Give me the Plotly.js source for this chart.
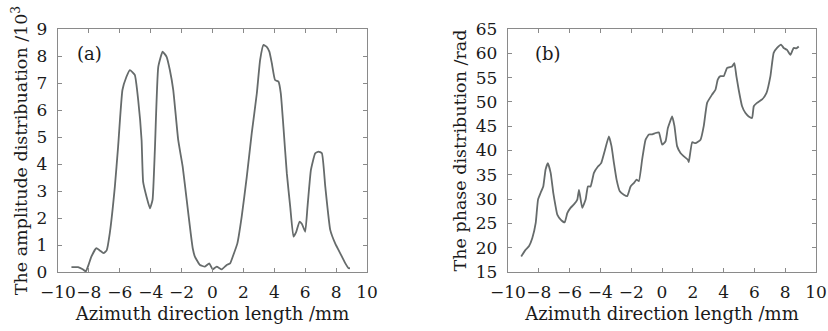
<!DOCTYPE html>
<html>
<head>
<meta charset="utf-8">
<script src="https://cdn.plot.ly/plotly-3.0.1.min.js"></script>
<style>html,body{margin:0;padding:0;background:#fff;}#chart{width:828px;height:331px;}</style>
</head>
<body>
<div id="chart"></div>
<script>
// (a) amplitude distribution (x in mm, y in 10^3)
const ampX = [-9.13,-8.7,-8.4,-8.2,-8.0,-7.84,-7.52,-7.3,-7.05,-6.85,-6.65,-6.32,-6.11,-5.83,-5.57,-5.35,-5.03,-4.81,-4.59,-4.49,-4.27,-4.05,-3.88,-3.73,-3.51,-3.23,-2.97,-2.76,-2.54,-2.22,-1.93,-1.67,-1.41,-1.28,-1.14,-0.81,-0.49,-0.21,0.01,0.27,0.6,0.92,1.14,1.35,1.61,1.89,2.22,2.54,2.87,3.08,3.3,3.51,3.68,3.84,4.05,4.27,4.42,4.59,4.81,5.03,5.24,5.42,5.63,5.79,6.0,6.15,6.37,6.65,6.86,7.08,7.3,7.62,7.94,8.27,8.6,8.81,8.9];
const ampY = [0.18,0.18,0.1,0.02,0.3,0.57,0.88,0.8,0.7,0.8,1.43,3.16,4.64,6.74,7.23,7.48,7.3,6.37,4.89,3.34,2.79,2.36,2.67,4.52,7.6,8.16,7.97,7.48,6.74,4.89,3.9,2.67,1.43,0.88,0.57,0.26,0.2,0.32,0.1,0.2,0.1,0.26,0.32,0.63,1.06,2.05,3.53,5.14,6.62,7.85,8.41,8.34,8.16,7.73,7.11,7.05,6.62,5.38,3.66,2.42,1.31,1.49,1.86,1.78,1.49,2.42,3.78,4.4,4.46,4.4,3.16,1.56,1.06,0.69,0.32,0.14,0.14];
// (b) phase distribution (x in mm, y in rad)
const phX = [-9.14,-8.85,-8.64,-8.42,-8.2,-8.05,-7.88,-7.71,-7.56,-7.41,-7.23,-7.06,-6.91,-6.8,-6.58,-6.32,-6.15,-5.94,-5.72,-5.5,-5.39,-5.18,-4.96,-4.81,-4.64,-4.42,-4.16,-3.95,-3.73,-3.45,-3.28,-3.12,-2.95,-2.74,-2.48,-2.26,-2.04,-1.83,-1.65,-1.5,-1.29,-1.07,-0.85,-0.64,-0.42,-0.2,0.01,0.23,0.38,0.66,0.81,0.98,1.2,1.42,1.68,1.74,1.96,2.17,2.5,2.71,2.93,3.25,3.47,3.62,3.79,4.01,4.23,4.55,4.7,4.83,4.98,5.2,5.42,5.63,5.85,5.96,6.17,6.5,6.78,7.04,7.25,7.47,7.73,7.9,8.12,8.34,8.55,8.72,8.88];
const phY = [18.2,19.6,20.3,22.0,25.1,29.9,31.3,32.6,36.1,37.4,35.4,31.3,28.5,26.8,25.8,25.2,27.1,28.2,28.9,29.9,31.9,28.2,29.9,32.6,32.6,35.4,36.7,37.4,39.8,42.9,40.9,37.4,34.0,31.6,30.9,30.6,32.6,33.3,34.0,33.7,38.1,42.2,43.3,43.3,43.6,43.7,41.2,41.9,44.6,47.0,45.0,40.9,39.5,38.8,38.1,37.6,41.7,41.5,42.2,45.0,49.8,51.5,52.5,54.6,55.3,55.3,57.0,57.3,58.0,55.3,52.5,49.1,47.7,47.0,46.7,49.1,49.8,50.5,51.8,55.3,60.1,61.1,61.8,61.1,60.7,59.7,61.1,61.0,61.4];
const xTicks = [-10,-8,-6,-4,-2,0,2,4,6,8,10];
const ampTicks = [0,1,2,3,4,5,6,7,8,9];
const phTicks = [15,20,25,30,35,40,45,50,55,60,65];

const FONT = 'DejaVu Serif, serif';
const lineStyle = {color:'#666b6b', width:1.8, shape:'spline', smoothing:0.4};
function xax(domain, anchor){
  return {domain:domain, anchor:anchor, range:[-10,10], tickvals:xTicks, tickangle:0, ticks:'inside', ticklen:4,
    tickcolor:'#8a8a8a', mirror:'ticks', showline:true, linecolor:'#8a8a8a', linewidth:1.2,
    showgrid:false, zeroline:false, ticklabelstandoff:4,
    tickfont:{family:FONT,size:17,color:'#1a1a1a'},
    title:{text:'Azimuth direction length /mm', font:{family:FONT,size:18,color:'#1a1a1a'}, standoff:6}};
}
function yax(range, ticks, title, anchor, standoff){
  return {range:range, tickvals:ticks, anchor:anchor, ticks:'inside', ticklen:4,
    tickcolor:'#8a8a8a', mirror:'ticks', showline:true, linecolor:'#8a8a8a', linewidth:1.2,
    showgrid:false, zeroline:false, ticklabelstandoff:6,
    tickfont:{family:FONT,size:17,color:'#1a1a1a'},
    title:{text:title, font:{family:FONT,size:17.5,color:'#1a1a1a'}, standoff:standoff}};
}
const data = [
  {x:ampX, y:ampY, type:'scatter', mode:'lines', line:lineStyle, xaxis:'x', yaxis:'y', hoverinfo:'skip'},
  {x:phX, y:phY, type:'scatter', mode:'lines', line:lineStyle, xaxis:'x2', yaxis:'y2', hoverinfo:'skip'}
];
const layout = {
  width:828, height:331, showlegend:false,
  margin:{l:0,r:0,t:29,b:59},
  paper_bgcolor:'#fff', plot_bgcolor:'#fff',
  xaxis: xax([58/828, 367/828], 'y'),
  yaxis: yax([0,9], ampTicks, 'The amplitude distribuation /10<sup>3</sup>', 'x', 4),
  xaxis2: xax([508/828, 816/828], 'y2'),
  yaxis2: yax([15,65], phTicks, 'The phase distribution /rad', 'x2', 4),
  annotations:[
    {text:'(a)', x:-7.95, y:8.1, xref:'x', yref:'y', showarrow:false, font:{family:FONT,size:18,color:'#1a1a1a'}},
    {text:'(b)', x:-7.4, y:60, xref:'x2', yref:'y2', showarrow:false, font:{family:FONT,size:18,color:'#1a1a1a'}}
  ]
};
Plotly.newPlot('chart', data, layout, {staticPlot:true, displayModeBar:false});
</script>
</body>
</html>
